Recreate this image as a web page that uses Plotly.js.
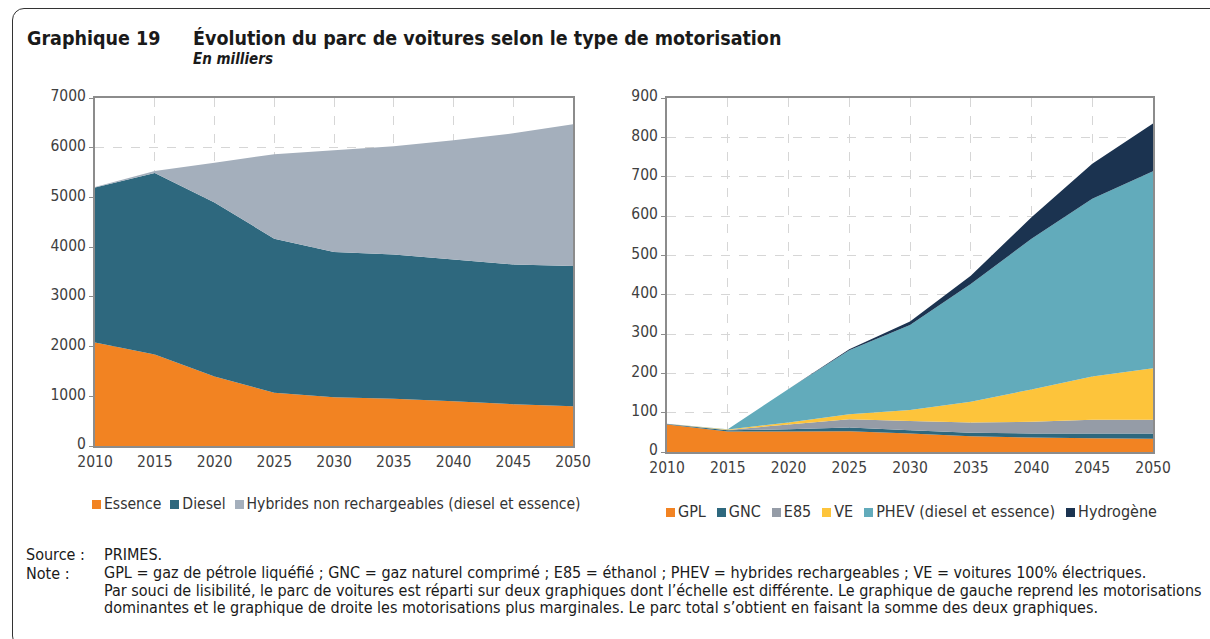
<!DOCTYPE html>
<html>
<head>
<meta charset="utf-8">
<script src="https://cdn.plot.ly/plotly-3.0.1.min.js"></script>
<style>
  html, body { margin:0; padding:0; background:#fff; }
  body { width:1210px; height:639px; position:relative; overflow:hidden; font-family:"DejaVu Sans Condensed", "DejaVu Sans", sans-serif; color:#1a1a1a; }
  #frame { position:absolute; left:12px; top:8px; width:1230px; height:640px; border:1.5px solid #333; border-radius:12px; box-sizing:border-box; }
  #chart { position:absolute; left:0; top:0; width:1210px; height:639px; }
  .t { position:absolute; white-space:nowrap; }
  .legend { position:absolute; white-space:nowrap; font-size:15.6px; color:#333; }
  .legend span.sw { display:inline-block; width:9px; height:9px; margin-right:3px; vertical-align:0px; }
  .legend span.it { margin-right:9px; }
  #legR span.it { margin-right:11px; }
  #legR { font-size:16px; }
  .note { font-size:16px; color:#1a1a1a; }
</style>
</head>
<body>
<div id="frame"></div>
<div id="chart"></div>
<div class="t" style="left:27px; top:27px; font-weight:bold; font-size:19.5px;">Graphique 19</div>
<div class="t" style="left:193px; top:27px; font-weight:bold; font-size:19.5px;">Évolution du parc de voitures selon le type de motorisation</div>
<div class="t" style="left:193px; top:50px; font-weight:bold; font-style:italic; font-size:15px;">En milliers</div>
<div id="legL" class="legend" style="left:92px; top:495px;"></div>
<div id="legR" class="legend" style="left:666px; top:502px;"></div>
<div class="t note" style="left:26px; top:545px;">Source :</div>
<div class="t note" style="left:104px; top:545px;">PRIMES.</div>
<div class="t note" style="left:26px; top:564px;">Note :</div>
<div class="t note" style="left:104px; top:564px; line-height:17.5px;">GPL = gaz de pétrole liquéfié ; GNC = gaz naturel comprimé ; E85 = éthanol ; PHEV = hybrides rechargeables ; VE = voitures 100% électriques.<br>Par souci de lisibilité, le parc de voitures est réparti sur deux graphiques dont l’échelle est différente. Le graphique de gauche reprend les motorisations<br>dominantes et le graphique de droite les motorisations plus marginales. Le parc total s’obtient en faisant la somme des deux graphiques.</div>
<script>
// ---- Data (thousands of cars) ----
const years = [2010, 2015, 2020, 2025, 2030, 2035, 2040, 2045, 2050];

// Left chart: dominant engines
const essence  = [2080, 1840, 1400, 1070, 980, 950, 900, 840, 800];
const diesel   = [3120, 3650, 3500, 3100, 2920, 2900, 2850, 2810, 2820];
const hybrides = [10, 40, 800, 1700, 2050, 2180, 2400, 2640, 2850];

// Right chart: marginal engines
const gpl   = [70, 52, 52, 53, 47, 40, 37, 35, 34];
const gnc   = [1, 3, 6, 9, 8, 9, 10, 12, 13];
const e85   = [1, 1, 12, 21, 24, 26, 30, 35, 35];
const ve    = [0, 1, 5, 13, 28, 53, 82, 110, 131];
const phev  = [0, 1, 85, 163, 216, 299, 383, 452, 501];
const hydro = [0, 0, 0, 2, 9, 21, 55, 89, 121];

const leftNames  = ["Essence", "Diesel", "Hybrides non rechargeables (diesel et essence)"];
const rightNames = ["GPL", "GNC", "E85", "VE", "PHEV (diesel et essence)", "Hydrogène"];
const xTicks = years.map(String);

const leftColors  = ["#F28322", "#2E687E", "#A4AFBC"];
const rightColors = ["#F28322", "#2E687E", "#959CA7", "#FDC43B", "#62ABBB", "#1B3350"];

const leftSeries  = [essence, diesel, hybrides];
const rightSeries = [gpl, gnc, e85, ve, phev, hydro];

const traces = [];
leftSeries.forEach((s, i) => traces.push({
  x: years, y: s, name: leftNames[i], type: "scatter", mode: "none",
  stackgroup: "left", fillcolor: leftColors[i], line: {width: 0},
  xaxis: "x", yaxis: "y", showlegend: false
}));
rightSeries.forEach((s, i) => traces.push({
  x: years, y: s, name: rightNames[i], type: "scatter", mode: "none",
  stackgroup: "right", fillcolor: rightColors[i], line: {width: 0},
  xaxis: "x2", yaxis: "y2", showlegend: false
}));

const tickFont = {family: "DejaVu Sans Condensed, DejaVu Sans, sans-serif", size: 15.5, color: "#404040"};
const axisCommon = {
  showline: true, linecolor: "#8c8c8c", linewidth: 2, mirror: true,
  showgrid: true, gridcolor: "#d6d6d6", griddash: "dash", gridwidth: 1,
  zeroline: false, tickfont: tickFont, fixedrange: true
};
const xCommon = Object.assign({}, axisCommon, {ticks: "", range: [2010, 2050], tickvals: years, ticktext: xTicks});
const yCommon = Object.assign({}, axisCommon, {ticks: "outside", ticklen: 4, tickcolor: "#8c8c8c", tickwidth: 1, ticklabelshift: -2});
const H = 639, W = 1210;
const layout = {
  width: W, height: H, margin: {l: 0, r: 0, t: 0, b: 0},
  paper_bgcolor: "rgba(0,0,0,0)", plot_bgcolor: "#fff", showlegend: false,
  xaxis: Object.assign({}, xCommon, {domain: [95 / W, 573 / W], anchor: "y"}),
  yaxis: Object.assign({}, yCommon, {domain: [(H - 446) / H, (H - 98) / H], range: [0, 7000], dtick: 1000, anchor: "x"}),
  xaxis2: Object.assign({}, xCommon, {domain: [667 / W, 1153 / W], anchor: "y2"}),
  yaxis2: Object.assign({}, yCommon, {domain: [(H - 452) / H, (H - 98) / H], range: [0, 900], dtick: 100, anchor: "x2"})
};

Plotly.newPlot("chart", traces, layout, {staticPlot: true, displayModeBar: false});

function buildLegend(id, names, colors) {
  const el = document.getElementById(id);
  el.innerHTML = names.map((n, i) =>
    `<span class="it"><span class="sw" style="background:${colors[i]}"></span>${n}</span>`
  ).join("");
}
buildLegend("legL", leftNames, leftColors);
buildLegend("legR", rightNames, rightColors);
</script>
</body>
</html>
